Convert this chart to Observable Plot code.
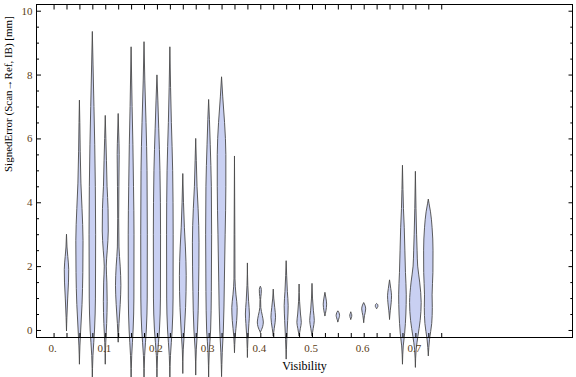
<!DOCTYPE html>
<html><head><meta charset="utf-8">
<script src="https://cdn.jsdelivr.net/npm/d3@7"></script>
<script src="https://cdn.jsdelivr.net/npm/@observablehq/plot@0.6"></script>
<style>body{margin:0;background:#fff}</style>
</head><body><div id="chart"></div>
<script>
// Visibility bins (category positions)
const visibility = [0.025,0.05,0.075,0.1,0.125,0.15,0.175,0.2,0.225,0.25,0.275,0.3,0.325,0.35,0.375,0.4,0.425,0.45,0.475,0.5,0.525,0.55,0.575,0.6,0.625,0.65,0.675,0.7,0.725];
// Violin profiles: [signed error (mm), relative density]
const violinProfiles = [
  [[-0.02,0],[0.4,0.4],[1.0,1.2],[1.5,2.0],[1.9,2.2],[2.3,1.3],[2.6,0.5],[3.0,0]],
  [[-1.06,0],[-0.5,0.5],[0.0,1.3],[0.8,2.6],[1.8,3.4],[2.8,3.6],[3.8,2.6],[4.6,1.5],[5.6,0.8],[6.5,0.4],[7.2,0]],
  [[-1.6,0],[-0.8,0.6],[0,2.2],[1,3.1],[3,3.3],[4.5,3.0],[5.8,2.4],[7,1.6],[8.3,0.7],[9.35,0]],
  [[-1.06,0],[-0.4,0.5],[0.2,1.4],[0.9,1.9],[1.5,1.6],[2.0,1.0],[2.5,2.0],[3.1,3.0],[3.8,2.8],[4.5,1.8],[5.3,1.2],[6.0,0.6],[6.72,0]],
  [[-0.37,0],[0.2,0.8],[0.8,2.0],[1.4,2.7],[2.0,2.0],[2.6,0.8],[3.5,0.5],[4.5,0.7],[5.5,1.0],[6.2,0.5],[6.78,0]],
  [[-1.6,0],[-0.8,0.6],[0,2.0],[1,2.8],[3,2.9],[4.5,2.4],[5.8,1.8],[7,1.0],[8.87,0]],
  [[-1.6,0],[-0.8,0.6],[0,2.3],[1,3.2],[3,3.3],[5,3.0],[6.5,2.0],[7.8,0.8],[9.03,0]],
  [[-1.6,0],[-0.8,0.6],[0,2.5],[1,3.5],[3,3.6],[5,3.0],[6.3,1.8],[7.2,0.9],[7.99,0]],
  [[-1.5,0],[-0.8,0.6],[0,2.3],[1,3.2],[3,3.3],[5,2.8],[6.5,1.5],[7.6,0.7],[8.87,0]],
  [[-1.35,0],[-0.6,0.5],[-0.1,1.5],[0.7,2.8],[1.7,3.4],[2.6,2.6],[3.2,1.6],[4.0,0.7],[4.9,0]],
  [[-1.4,0],[-0.6,0.6],[0,1.8],[1.2,2.8],[2.75,3.3],[3.8,2.4],[4.5,1.3],[5.3,0.6],[6.0,0]],
  [[-1.5,0],[-0.7,0.6],[0,2.0],[1.2,2.7],[3.0,3.0],[4.5,2.7],[5.8,1.6],[6.6,0.8],[7.22,0]],
  [[-1.45,0],[-0.7,0.7],[0,1.8],[1.5,2.8],[3,3.6],[4.5,4.3],[5.5,4.3],[6.5,3.0],[7.3,1.2],[7.93,0]],
  [[-0.7,0],[-0.2,0.7],[0.3,2.2],[0.7,2.7],[1.1,1.5],[1.6,0.5],[3,0.35],[5.45,0]],
  [[-0.85,0],[-0.3,0.5],[0.2,1.5],[0.5,2.0],[0.9,1.2],[1.4,0.4],[2.1,0]],
  [[-0.07,0],[0.1,2.3],[0.25,3.0],[0.45,2.0],[0.7,0.5],[0.95,0.3],[1.15,0.9],[1.27,1.0],[1.37,0]],
  [[-0.18,0],[0.05,1.0],[0.4,2.3],[0.7,1.5],[1.0,0.5],[1.28,0]],
  [[-0.9,0],[-0.3,0.6],[0.3,1.5],[0.76,2.0],[1.2,1.2],[1.7,0.5],[2.17,0]],
  [[-0.18,0],[0.05,1.3],[0.24,2.2],[0.5,1.4],[0.9,0.5],[1.44,0]],
  [[-0.18,0],[0.05,1.2],[0.3,2.3],[0.6,1.4],[1.0,0.5],[1.46,0]],
  [[0.45,0],[0.6,1.0],[0.81,1.7],[1.0,1.0],[1.18,0]],
  [[0.26,0],[0.38,1.2],[0.45,1.7],[0.55,1.0],[0.6,0]],
  [[0.34,0],[0.42,0.9],[0.47,1.0],[0.52,0.5],[0.57,0]],
  [[0.24,0],[0.45,0.8],[0.66,2.0],[0.78,1.2],[0.86,0]],
  [[0.68,0],[0.73,1.2],[0.76,1.3],[0.8,1.0],[0.83,0]],
  [[0.34,0],[0.6,0.7],[0.85,1.6],[1.07,2.0],[1.3,1.2],[1.57,0]],
  [[-1.06,0],[-0.5,0.8],[-0.1,2.2],[0.5,3.4],[1.1,3.8],[1.8,3.0],[2.5,2.4],[3.2,1.8],[3.8,1.0],[4.4,0.5],[5.16,0]],
  [[-1.16,0],[-0.6,0.8],[-0.2,2.5],[0.3,4.8],[0.86,5.8],[1.5,4.3],[2.0,2.3],[2.5,1.7],[3.0,1.2],[3.8,0.6],[4.97,0]],
  [[-0.8,0],[-0.3,1.2],[0.2,3.4],[0.7,4.0],[1.1,3.8],[1.8,4.6],[2.5,4.7],[3.2,3.8],[3.7,2.2],[3.95,0.8],[4.1,0]]
];
const yMajorTicks = [0,2,4,6,8,10];
const yMinorTicks = [0.5,1,1.5,2.5,3,3.5,4.5,5,5.5,6.5,7,7.5,8.5,9,9.5];
const xTicks = [0,0.025,0.05,0.075,0.1,0.125,0.15,0.175,0.2,0.225,0.25,0.275,0.3,0.325,0.35,0.375,0.4,0.425,0.45,0.475,0.5,0.525,0.55,0.575,0.6,0.625,0.65,0.675,0.7,0.725,0.75];
const xLabelTicks = [0,0.1,0.2,0.3,0.4,0.5,0.6,0.7];
const xTickLabels = ["0.","0.1","0.2","0.3","0.4","0.5","0.6","0.7"];
const xTitle = "Visibility";
const yTitle = "SignedError (Scan\u2192Ref, IB) [mm]";

const densityToX = 1 / 517; // x-units per density unit

const rows = [];
visibility.forEach((pos, i) => {
  for (const [v, d] of violinProfiles[i]) {
    rows.push({pos, v, lo: pos - d * densityToX, hi: pos + d * densityToX});
  }
});

const labelColor = "#5a3c14";
const chart = Plot.plot({
  width: 576, height: 377,
  marginLeft: 36, marginRight: 4, marginTop: 4, marginBottom: 40,
  style: {fontFamily: "'Liberation Serif', 'DejaVu Serif', serif", fontSize: "11px", background: "white"},
  x: {domain: [-0.034, 1.003]},
  y: {domain: [-0.22, 10.21]},
  marks: [
    Plot.areaX(rows, {y: "v", x1: "lo", x2: "hi", z: "pos", curve: "monotone-y", fill: "#c9d0f2", stroke: "#4a4a4a", strokeWidth: 0.9}),
    Plot.frame({stroke: "black"}),
    Plot.axisY({anchor: "left", ticks: yMajorTicks, tickSize: -5, tickPadding: 9, tickFormat: d => String(d), label: null, stroke: "black", fill: labelColor}),
    Plot.axisY({anchor: "left", ticks: yMinorTicks, tickSize: -3, tickFormat: () => "", label: null, stroke: "black"}),
    Plot.axisY({anchor: "right", ticks: yMajorTicks, tickSize: -4.5, tickFormat: () => "", label: null, stroke: "black"}),
    Plot.axisY({anchor: "right", ticks: yMinorTicks, tickSize: -2.7, tickFormat: () => "", label: null, stroke: "black"}),
    Plot.axisX({anchor: "bottom", ticks: xTicks, tickSize: -4, tickFormat: () => "", label: null, stroke: "black"}),
    Plot.axisX({anchor: "bottom", ticks: xLabelTicks, tickSize: 0, tickPadding: 7, dx: -1.5, tickFormat: (d, i) => xTickLabels[i], label: null, fill: labelColor}),
    Plot.axisX({anchor: "top", ticks: xTicks, tickSize: -4.5, tickFormat: () => "", label: null, stroke: "black"}),
    Plot.text([xTitle], {frameAnchor: "bottom", dy: 32, fontSize: 12, fill: "black"}),
    Plot.text([yTitle], {frameAnchor: "left", dx: -28, dy: 1, rotate: -90, fontSize: 11, fill: "black"})
  ]
});
document.getElementById("chart").appendChild(chart);
</script>
</body></html>
